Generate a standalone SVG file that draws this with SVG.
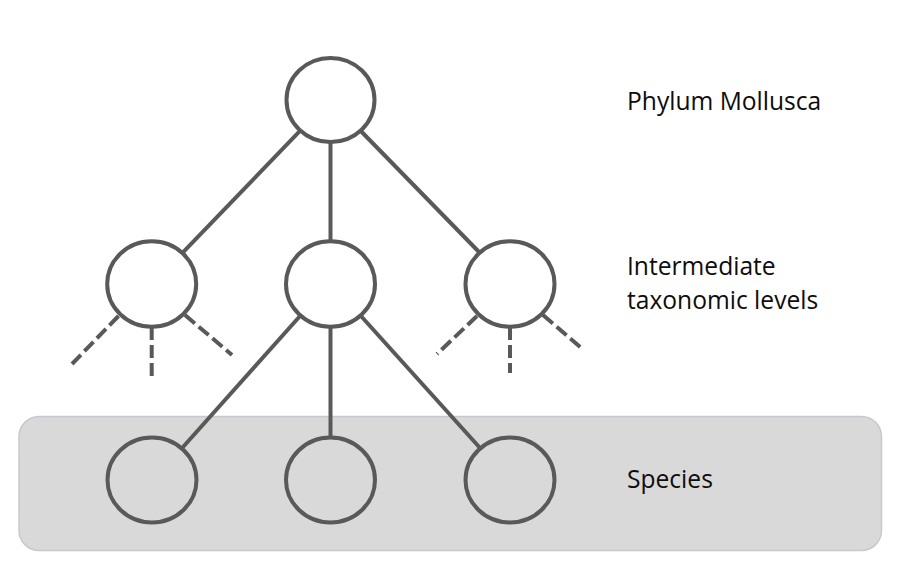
<svg xmlns="http://www.w3.org/2000/svg" width="905" height="569" viewBox="0 0 905 569">
<style>
.node{fill:none;stroke:#595959;stroke-width:4}
.edge{stroke:#595959;stroke-width:4;fill:none}
.dash{stroke:#595959;stroke-width:4;fill:none;stroke-dasharray:13 5}
.lbl{font-family:"Open Sans","Liberation Sans",sans-serif;font-size:24.6px;fill:#0d0d0d}
</style>
<rect width="905" height="569" fill="#ffffff"/>
<g id="species-band">
<rect x="19" y="416.5" width="862.5" height="134" rx="20" ry="20" fill="#d9d9d9" stroke="#c8c8d0" stroke-width="1.5"/>
</g>
<g id="connectors">
<line class="edge" x1="299.5" y1="131.3" x2="182.7" y2="252.7"/>
<line class="edge" x1="330.5" y1="142.5" x2="330.5" y2="241.5"/>
<line class="edge" x1="361.3" y1="131.5" x2="479.5" y2="252.5"/>
<line class="edge" x1="300.5" y1="315.5" x2="181.7" y2="448.5"/>
<line class="edge" x1="330.5" y1="326.5" x2="330.5" y2="437.5"/>
<line class="edge" x1="360.5" y1="315.5" x2="480.5" y2="448.5"/>
<line class="dash" x1="118.5" y1="316" x2="72" y2="364"/>
<line class="dash" x1="151.7" y1="327" x2="151.7" y2="379"/>
<line class="dash" x1="185" y1="315" x2="232" y2="355"/>
<line class="dash" x1="477" y1="316" x2="437" y2="354"/>
<line class="dash" x1="510" y1="327" x2="510" y2="373"/>
<line class="dash" x1="543" y1="315" x2="582" y2="348.5"/>
</g>
<g id="node-phylum"><ellipse class="node" cx="330.5" cy="100" rx="44" ry="42"/></g>
<g id="node-mid-left"><ellipse class="node" cx="151.7" cy="284" rx="44.5" ry="42.7"/></g>
<g id="node-mid-center"><ellipse class="node" cx="330.5" cy="284" rx="44.5" ry="42.7"/></g>
<g id="node-mid-right"><ellipse class="node" cx="510" cy="284" rx="44.5" ry="42.7"/></g>
<g id="node-species-left"><ellipse class="node" cx="152" cy="480" rx="44.5" ry="42.5"/></g>
<g id="node-species-center"><ellipse class="node" cx="330.5" cy="480" rx="44.5" ry="42.5"/></g>
<g id="node-species-right"><ellipse class="node" cx="510" cy="480" rx="44.5" ry="42.5"/></g>
<g id="labels">
<text class="lbl" x="627" y="109.5">Phylum Mollusca</text>
<text class="lbl" x="627" y="275">Intermediate</text>
<text class="lbl" x="627" y="308.5">taxonomic levels</text>
<text class="lbl" x="627" y="488">Species</text>
</g>
</svg>
